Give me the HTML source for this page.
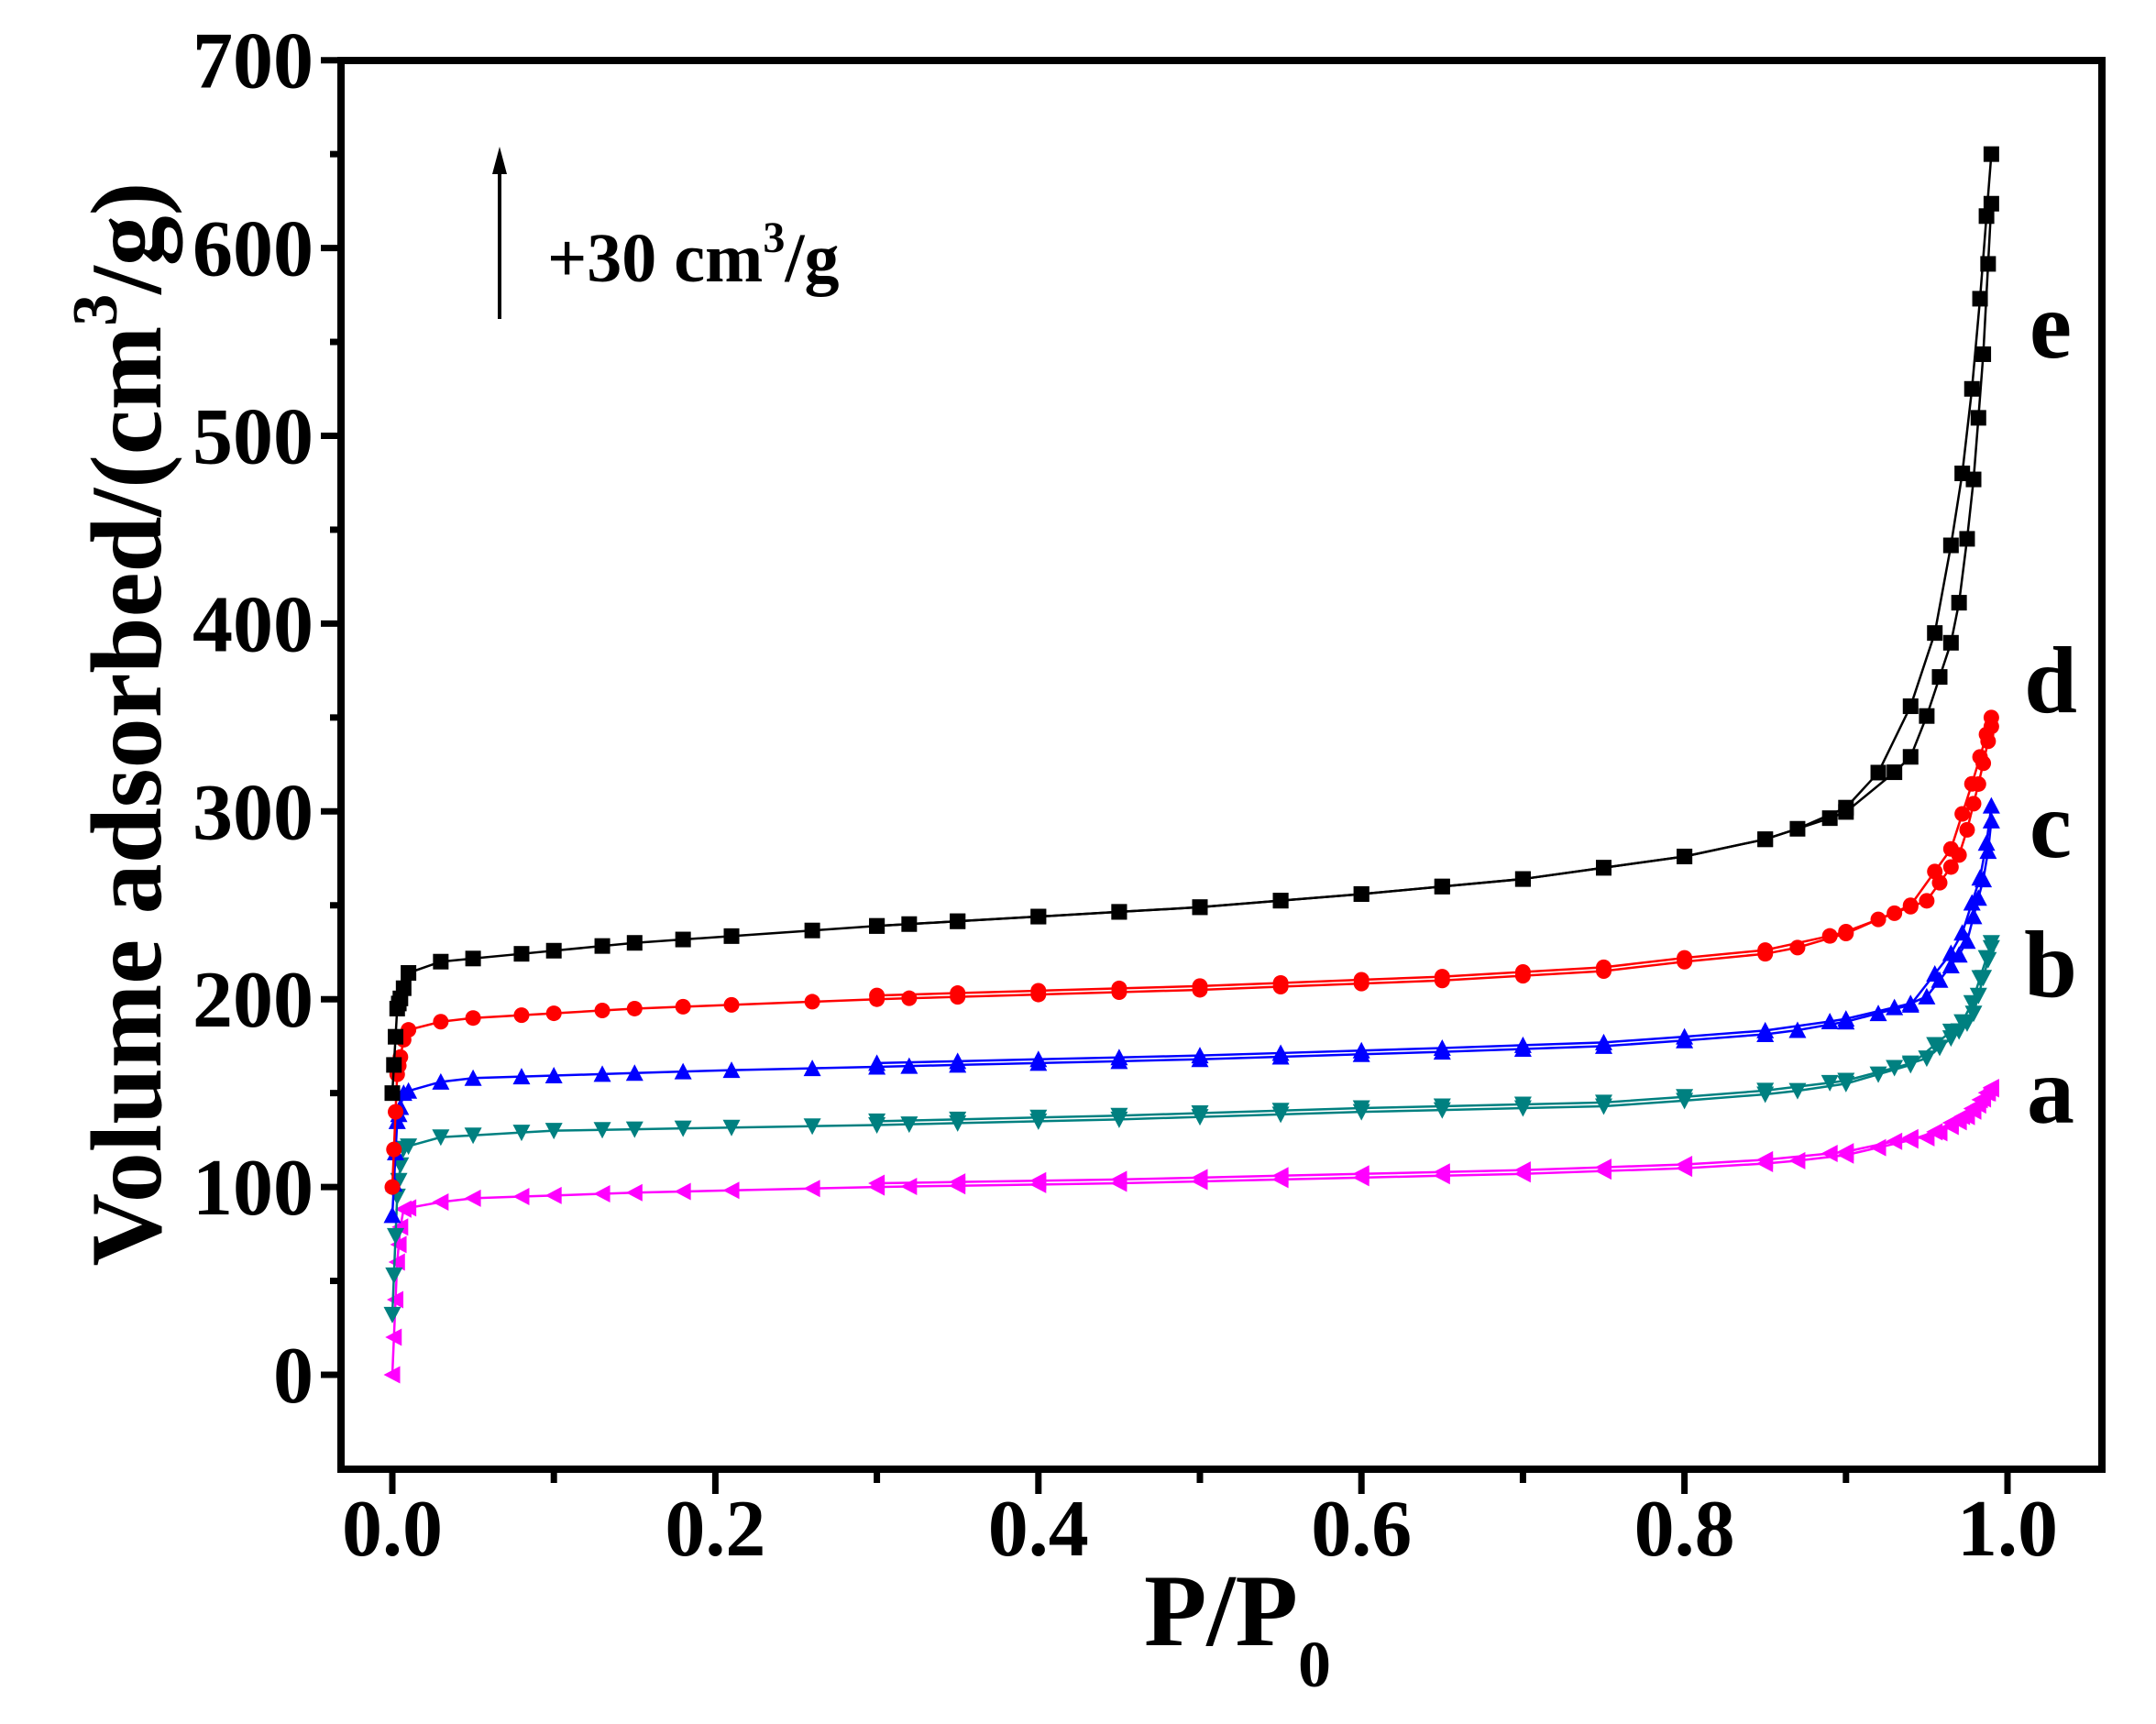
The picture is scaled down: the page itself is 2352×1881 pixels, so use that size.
<!DOCTYPE html>
<html><head><meta charset="utf-8"><style>
html,body{margin:0;padding:0;background:#fff;}
svg{display:block;}
text{font-family:"Liberation Serif",serif;font-weight:bold;fill:#000;}
</style></head><body>
<svg id="s" width="2352" height="1881" viewBox="0 0 2352 1881" xmlns="http://www.w3.org/2000/svg">
<rect width="2352" height="1881" fill="#fff"/>
<g id="data"></g>
<rect x="372" y="66" width="1921" height="1537" fill="none" stroke="#000" stroke-width="8"/>
<g id="ticks" stroke="#000" stroke-width="7"></g>
<g id="labels" font-size="88"></g>
<text x="1350" y="1795" font-size="112" text-anchor="middle">P/P<tspan font-size="72" dy="45">0</tspan></text>
<text transform="translate(175,790) rotate(-90)" font-size="110" text-anchor="middle">Volume adsorbed/(cm<tspan font-size="70" dy="-48">3</tspan><tspan dy="48">/g)</tspan></text>
<line x1="545" y1="348" x2="545" y2="180" stroke="#000" stroke-width="4"/>
<polygon points="545,160 537,190 553,190" fill="#000"/>
<text x="597" y="307" font-size="76">+30 cm<tspan font-size="48" dy="-32">3</tspan><tspan dy="32">/g</tspan></text>
<g font-size="104">
<text x="2237" y="390" text-anchor="middle">e</text>
<text x="2237" y="777" text-anchor="middle">d</text>
<text x="2237" y="935" text-anchor="middle">c</text>
<text x="2237" y="1087" text-anchor="middle">b</text>
<text x="2237" y="1225" text-anchor="middle">a</text>
</g>
</svg>
<script>
const NS="http://www.w3.org/2000/svg";
const X=p=>428+1762*p, Y=v=>1500-2.049*v;
function el(t,a,parent){const e=document.createElementNS(NS,t);for(const k in a)e.setAttribute(k,a[k]);parent.appendChild(e);return e;}
const T=document.getElementById('ticks'),L=document.getElementById('labels'),D=document.getElementById('data');
for(let v=-50;v<=700;v+=50){if(v===-50)continue;const y=Y(v);const maj=v%100===0;el('line',{x1:372,y1:y,x2:maj?350:360,y2:y},T);
 if(maj){const t=el('text',{x:342,y:y+30,'text-anchor':'end'},L);t.textContent=v;}}
for(let i=0;i<=10;i++){const p=i/10,x=X(p);const maj=i%2===0;el('line',{x1:x,y1:1603,x2:x,y2:maj?1630:1618},T);
 if(maj){const t=el('text',{x:x,y:1697,'text-anchor':'middle'},L);t.textContent=p.toFixed(1);}}
function interp(k,p){if(p<=k[0][0])return k[0][1];for(let i=1;i<k.length;i++){if(p<=k[i][0]){const a=k[i-1],b=k[i];return a[1]+(b[1]-a[1])*(p-a[0])/(b[0]-a[0]);}}return k[k.length-1][1];}
const S=[
{c:'#ff00ff',m:'left',k:[[0,0],[0.003,60],[0.006,88],[0.02,91],[0.05,94],[0.15,97],[0.3,100],[0.45,102],[0.6,105],[0.7,107],[0.8,110],[0.86,113],[0.9,117],[0.95,127],[0.975,139],[0.99,153]],sh:0.004,off:2},
{c:'#008080',m:'down',k:[[0,32],[0.003,95],[0.006,120],[0.02,126],[0.1,130],[0.3,133],[0.45,136],[0.6,140],[0.75,143],[0.8,146],[0.86,150],[0.9,155],[0.94,165],[0.975,190],[0.99,230]],sh:0.005,off:2},
{c:'#0000ff',m:'up',k:[[0,85],[0.003,135],[0.007,150],[0.02,155],[0.05,158],[0.2,162],[0.35,165],[0.5,168],[0.65,172],[0.75,175],[0.8,178],[0.86,182],[0.9,188],[0.94,197],[0.97,230],[0.985,270],[0.99,303]],sh:0.006,off:2},
{c:'#ff0000',m:'circle',k:[[0,100],[0.003,160],[0.008,183],[0.02,187],[0.05,190],[0.15,195],[0.3,200],[0.5,205],[0.65,210],[0.75,215],[0.8,220],[0.86,225],[0.9,235],[0.94,250],[0.965,280],[0.98,320],[0.99,350]],sh:0.008,off:2},
{c:'#000000',m:'square',k:[[0,150],[0.003,195],[0.01,214],[0.03,220],[0.15,230],[0.3,239],[0.5,249],[0.6,256],[0.7,264],[0.8,276],[0.86,287],[0.9,302],[0.93,330],[0.955,395],[0.97,465],[0.98,540],[0.99,650]],sh:0.012,off:0}
];
const adsP=[0,0.001,0.002,0.003,0.004,0.005,0.007,0.01,0.03,0.05,0.08,0.1,0.13,0.15,0.18,0.21,0.26,0.3,0.32,0.35,0.4,0.45,0.5,0.55,0.6,0.65,0.7,0.75,0.8,0.85,0.87,0.9,0.92,0.94,0.955,0.965,0.972,0.978,0.983,0.987,0.99];
const desP=[0.99,0.988,0.985,0.982,0.979,0.975,0.97,0.965,0.958,0.95,0.94,0.93,0.9,0.89,0.85,0.8,0.75,0.7,0.65,0.6,0.55,0.5,0.45,0.4,0.35,0.3];
function shift(s,p){if(p<=0.85)return 0;const t=(p-0.85)/0.14;let f=Math.min(1,t/0.7);if(t>0.85)f=1-(t-0.85)/0.15*0.8;return s.sh*f;}
function marker(m,x,y,c,g){const r=8.5;
 if(m==='square')el('rect',{x:x-r,y:y-r,width:2*r,height:2*r,fill:c},g);
 else if(m==='circle')el('circle',{cx:x,cy:y,r:r,fill:c},g);
 else if(m==='up')el('polygon',{points:`${x},${y-r-1} ${x-r-1},${y+r} ${x+r+1},${y+r}`,fill:c},g);
 else if(m==='down')el('polygon',{points:`${x},${y+r+1} ${x-r-1},${y-r} ${x+r+1},${y-r}`,fill:c},g);
 else el('polygon',{points:`${x-r-1},${y} ${x+r},${y-r-1} ${x+r},${y+r+1}`,fill:c},g);}
S.forEach(s=>{const g=el('g',{},D);
 const ads=adsP.map(p=>[X(p),Y(interp(s.k,p))]);
 const des=desP.map(p=>[X(p),Y(interp(s.k,p-shift(s,p))+s.off*(p<0.95?1:0))]);
 el('polyline',{points:ads.map(a=>a.join(',')).join(' '),fill:'none',stroke:s.c,'stroke-width':2.5},g);
 el('polyline',{points:des.map(a=>a.join(',')).join(' '),fill:'none',stroke:s.c,'stroke-width':2.5},g);
 ads.concat(des).forEach(a=>marker(s.m,a[0],a[1],s.c,g));
});
</script>
</body></html>
